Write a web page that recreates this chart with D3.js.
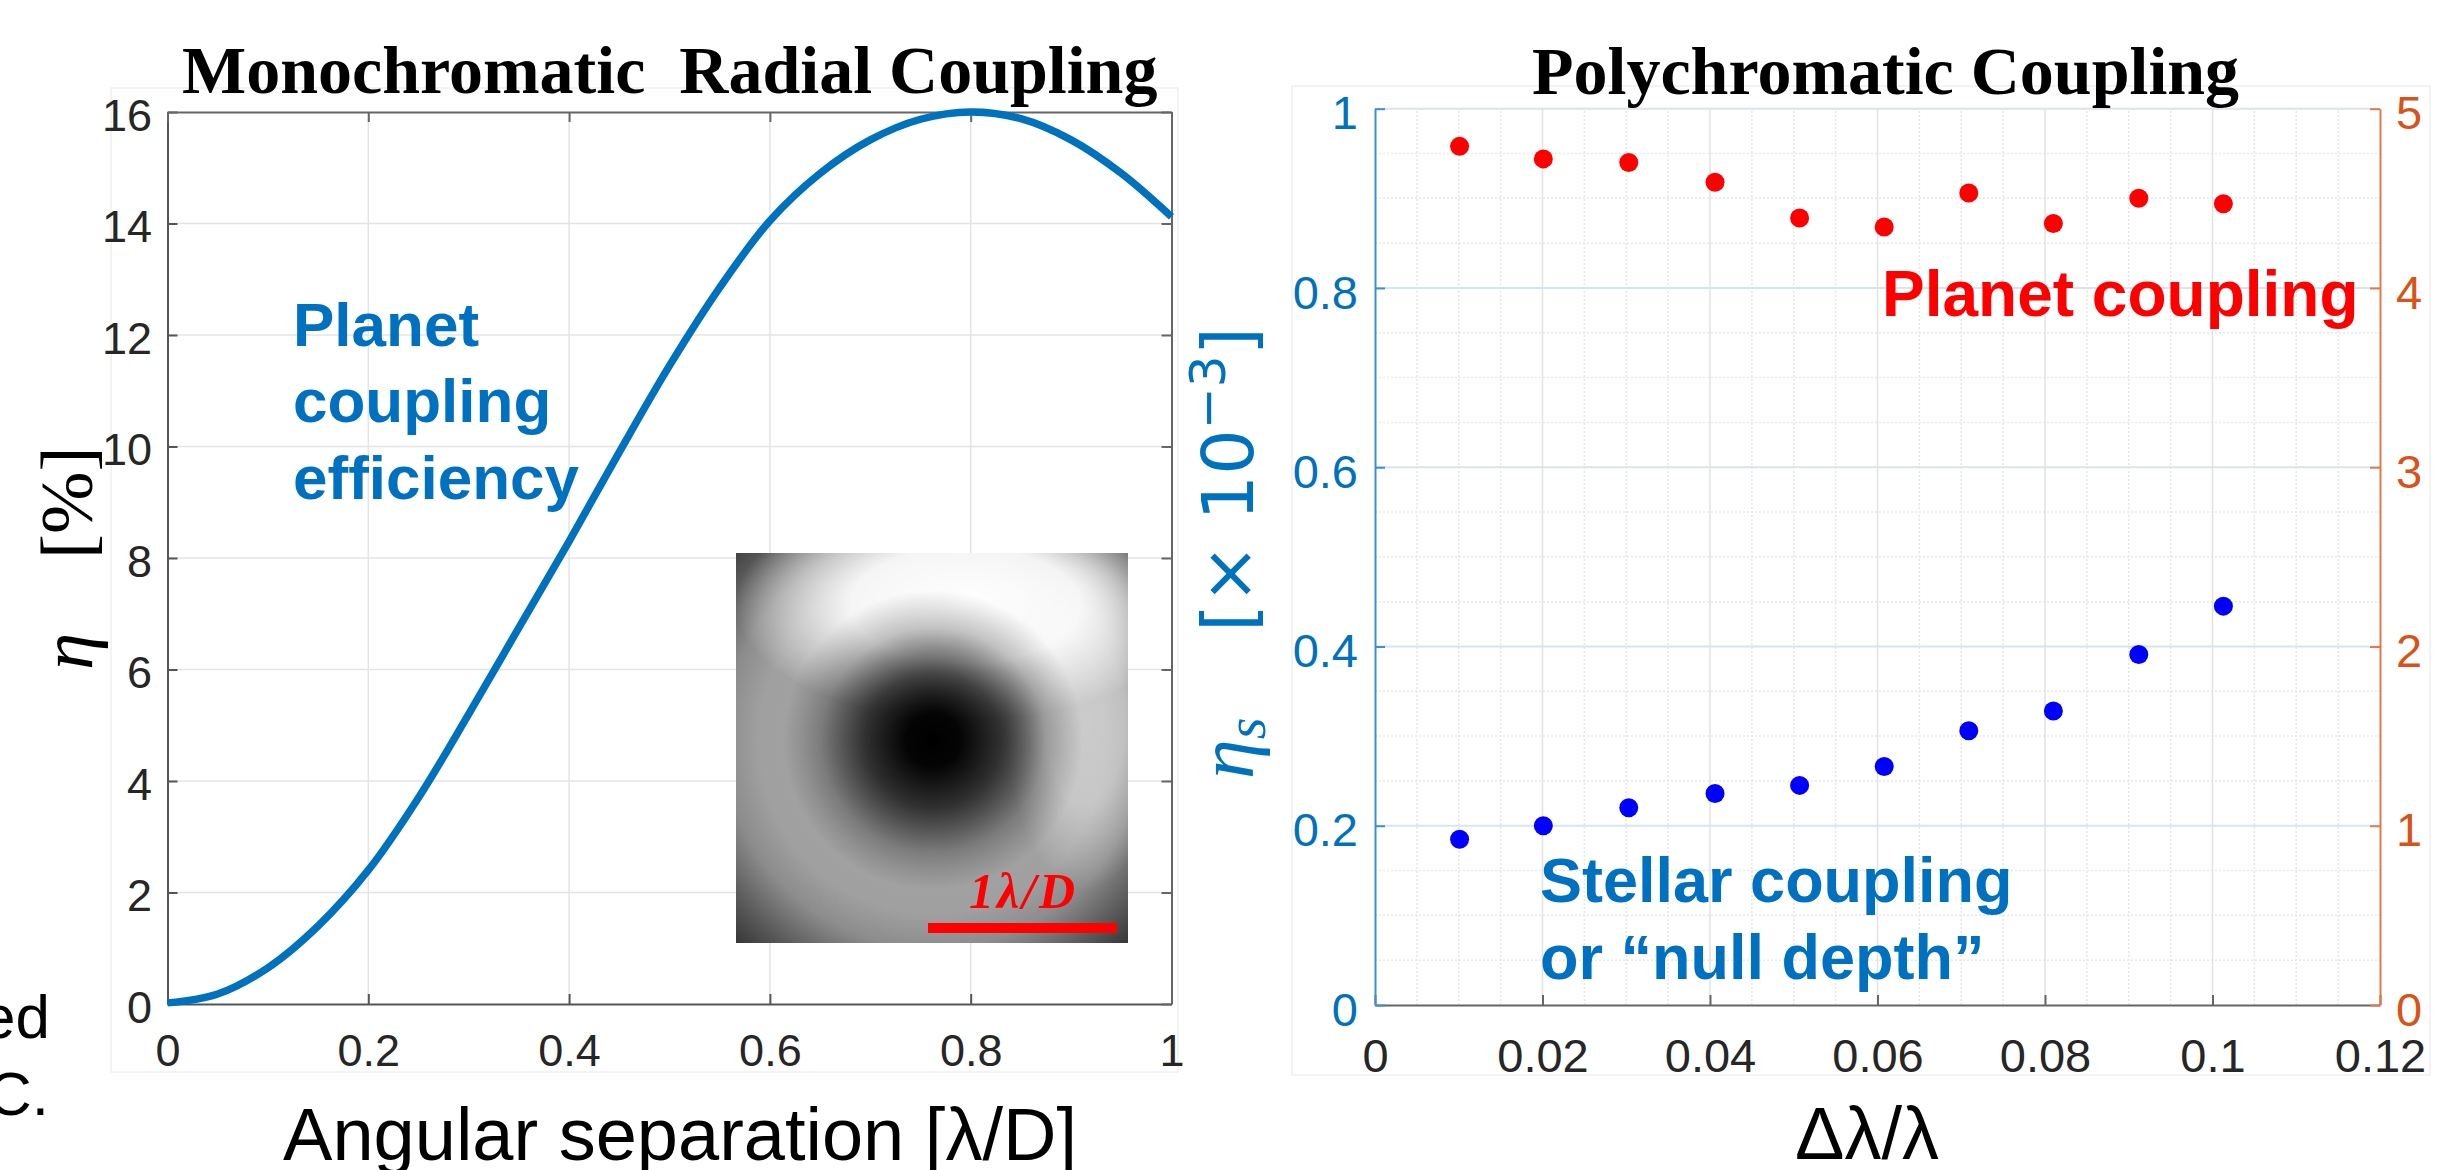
<!DOCTYPE html>
<html><head><meta charset="utf-8">
<script src="https://cdn.jsdelivr.net/npm/d3@7"></script>
<style>
html,body{margin:0;padding:0;background:#fff;overflow:hidden;}
svg{display:block;}
</style></head><body>
<svg id="fig" width="2446" height="1170"></svg>
<script>
// ---------- data: monochromatic radial coupling ----------
const angSepTicks = [0, 0.2, 0.4, 0.6, 0.8, 1];
const etaTicks = [0, 2, 4, 6, 8, 10, 12, 14, 16];
const angSep = [0, 0.05, 0.1, 0.15, 0.2, 0.25, 0.3, 0.35, 0.4, 0.45, 0.5, 0.55, 0.6, 0.65, 0.7, 0.75, 0.8, 0.85, 0.9, 0.95, 1.0];
const etaPlanet = [0.02, 0.18, 0.65, 1.4, 2.4, 3.7, 5.2, 6.75, 8.3, 9.9, 11.45, 12.85, 14.05, 14.9, 15.5, 15.87, 16.0, 15.88, 15.5, 14.9, 14.12];

// ---------- data: polychromatic coupling ----------
const bwTicks = [0, 0.02, 0.04, 0.06, 0.08, 0.1, 0.12];
const stellarTicks = [0, 0.2, 0.4, 0.6, 0.8, 1];
const planetTicks = [0, 1, 2, 3, 4, 5];
const bandwidth = [0.0101, 0.0201, 0.0303, 0.0406, 0.0507, 0.0608, 0.0709, 0.0810, 0.0912, 0.1013];
const planetCoupling = [4.79, 4.72, 4.70, 4.59, 4.39, 4.34, 4.53, 4.36, 4.50, 4.47];
const stellarCoupling = [0.185, 0.200, 0.220, 0.236, 0.245, 0.266, 0.306, 0.328, 0.391, 0.445];

const SANS = "'Liberation Sans', Arial, sans-serif";
const SERIF = "'Liberation Serif', 'Times New Roman', serif";

const svg = d3.select('#fig');
const defs = svg.append('defs');

// =============== LEFT PANEL ===============
const xL = d3.scaleLinear().domain([0, 1]).range([167.5, 1171.5]);
const yL = d3.scaleLinear().domain([0, 16]).range([1004, 112]);

svg.append('rect').attr('x', 111).attr('y', 88).attr('width', 1067).attr('height', 984)
  .attr('fill', 'none').attr('stroke', '#f0f0f0').attr('stroke-width', 1.5);

const gL = svg.append('g');
gL.selectAll('line.vg').data(angSepTicks.slice(1, -1)).join('line')
  .attr('x1', d => xL(d)).attr('x2', d => xL(d)).attr('y1', yL(0)).attr('y2', yL(16))
  .attr('stroke', '#e4e4e4').attr('stroke-width', 1.5);
gL.selectAll('line.hg').data(etaTicks.slice(1, -1)).join('line')
  .attr('x1', xL(0)).attr('x2', xL(1)).attr('y1', d => yL(d)).attr('y2', d => yL(d))
  .attr('stroke', '#e4e4e4').attr('stroke-width', 1.5);

function styleAxis(g, color, size, family) {
  g.attr('font-family', family || SANS).attr('font-size', size).style('color', color);
  g.selectAll('path.domain').attr('stroke-width', 2);
  g.selectAll('.tick line').attr('stroke-width', 2);
}

const axLB = gL.append('g').attr('transform', `translate(0,${yL(0)})`)
  .call(d3.axisBottom(xL).tickValues(angSepTicks).tickSizeInner(-10).tickSizeOuter(0).tickPadding(30).tickFormat(d => String(d)));
styleAxis(axLB, '#555', 45);
axLB.selectAll('text').attr('fill', '#262626');
const axLL = gL.append('g').attr('transform', `translate(${xL(0)},0)`)
  .call(d3.axisLeft(yL).tickValues(etaTicks).tickSizeInner(-10).tickSizeOuter(0).tickPadding(15.5).tickFormat(d => String(d)));
styleAxis(axLL, '#555', 45);
axLL.selectAll('text').attr('fill', '#262626').attr('dy', '0.4em');
const axLT = gL.append('g').attr('transform', `translate(0,${yL(16)})`)
  .call(d3.axisTop(xL).tickValues(angSepTicks).tickSizeInner(-10).tickSizeOuter(0).tickFormat(''));
styleAxis(axLT, '#666', 45);
const axLR = gL.append('g').attr('transform', `translate(${xL(1)},0)`)
  .call(d3.axisRight(yL).tickValues(etaTicks).tickSizeInner(-10).tickSizeOuter(0).tickFormat(''));
styleAxis(axLR, '#666', 45);

// curve
const lineL = d3.line().x((d, i) => xL(angSep[i])).y(d => yL(d)).curve(d3.curveCatmullRom.alpha(0.5));
gL.append('path').datum(etaPlanet).attr('d', lineL)
  .attr('fill', 'none').attr('stroke', '#0072BD').attr('stroke-width', 7.5).attr('stroke-linecap', 'butt');

// inset image (decorative donut PSF)
const ins = {x: 736, y: 553, w: 392, h: 390, cx: 933, cy: 740};
const rg = defs.append('radialGradient').attr('id', 'base').attr('gradientUnits', 'userSpaceOnUse')
  .attr('cx', ins.cx).attr('cy', ins.cy).attr('r', 290);
[[0, '#8a8a8a'], [0.45, '#a2a2a2'], [0.6, '#a0a0a0'], [0.72, '#8c8c8c'], [0.85, '#5e5e5e'], [1, '#2e2e2e']]
  .forEach(s => rg.append('stop').attr('offset', s[0]).attr('stop-color', s[1]));
const hg = defs.append('radialGradient').attr('id', 'hi');
[[0, 1], [0.5, 0.9], [1, 0]].forEach(s => hg.append('stop').attr('offset', s[0]).attr('stop-color', '#fff').attr('stop-opacity', s[1]));
const dg = defs.append('radialGradient').attr('id', 'dark');
[[0, 1], [0.18, 0.97], [0.45, 0.68], [0.75, 0.22], [1, 0]].forEach(s => dg.append('stop').attr('offset', s[0]).attr('stop-color', '#000').attr('stop-opacity', s[1]));
defs.append('clipPath').attr('id', 'insclip').append('rect')
  .attr('x', ins.x).attr('y', ins.y).attr('width', ins.w).attr('height', ins.h);
const gI = svg.append('g').attr('clip-path', 'url(#insclip)');
gI.append('rect').attr('x', ins.x).attr('y', ins.y).attr('width', ins.w).attr('height', ins.h).attr('fill', 'url(#base)');
gI.append('ellipse').attr('cx', 965).attr('cy', 605).attr('rx', 230).attr('ry', 115).attr('fill', 'url(#hi)');
gI.append('ellipse').attr('cx', 1085).attr('cy', 720).attr('rx', 80).attr('ry', 170).attr('fill', 'url(#hi)').attr('opacity', 0.45);
gI.append('ellipse').attr('cx', ins.cx).attr('cy', ins.cy).attr('rx', 150).attr('ry', 150).attr('fill', 'url(#dark)');
svg.append('rect').attr('x', 928).attr('y', 923).attr('width', 189).attr('height', 10).attr('fill', '#FF0000');
svg.append('text').attr('x', 969).attr('y', 908).attr('font-family', SERIF).attr('font-style', 'italic')
  .attr('font-weight', 'bold').attr('font-size', 50).attr('fill', '#FF0000')
  .attr('textLength', 106).attr('lengthAdjust', 'spacing').text('1λ/D');

// texts left
svg.append('text').attr('x', 182).attr('y', 93).attr('font-family', SERIF).attr('font-weight', 'bold')
  .attr('font-size', 68).attr('fill', '#000').attr('xml:space', 'preserve').style('white-space', 'pre')
  .text('Monochromatic  Radial Coupling');
svg.append('text').attr('transform', 'translate(92,670) rotate(-90)').attr('font-family', SERIF)
  .attr('font-style', 'italic').attr('font-size', 75).attr('fill', '#000').text('η');
svg.append('text').attr('transform', 'translate(92,559) rotate(-90)').attr('font-family', SERIF)
  .attr('font-size', 75).attr('fill', '#000').text('[%]');
svg.append('text').attr('x', 680).attr('y', 1160).attr('text-anchor', 'middle').attr('font-family', SANS)
  .attr('font-size', 74).attr('fill', '#000').text('Angular separation [λ/D]');
['Planet', 'coupling', 'efficiency'].forEach((t, i) => {
  svg.append('text').attr('x', 293).attr('y', [346, 422, 499][i]).attr('font-family', SANS)
    .attr('font-weight', 'bold').attr('font-size', 62).attr('fill', '#0070C0').text(t);
});
svg.append('text').attr('x', 50).attr('y', 1038).attr('text-anchor', 'end').attr('font-family', SANS)
  .attr('font-size', 62).attr('fill', '#000').text('ed');
svg.append('text').attr('x', 49).attr('y', 1115).attr('text-anchor', 'end').attr('font-family', SANS)
  .attr('font-size', 62).attr('fill', '#000').text('C.');

// =============== RIGHT PANEL ===============
const xR = d3.scaleLinear().domain([0, 0.12]).range([1375, 2380]);
const yS = d3.scaleLinear().domain([0, 1]).range([1005, 108.7]);
const yP = d3.scaleLinear().domain([0, 5]).range([1005, 108.7]);

svg.append('rect').attr('x', 1292).attr('y', 86).attr('width', 1138).attr('height', 989)
  .attr('fill', 'none').attr('stroke', '#f0f0f0').attr('stroke-width', 1.5);

const gR = svg.append('g');
const majX = new Set(bwTicks.map(d => Math.round(d * 1000)));
const minX = xR.ticks(24).filter(d => !majX.has(Math.round(d * 1000)));
const majY = new Set(stellarTicks.map(d => Math.round(d * 100)));
const minY = yS.ticks(20).filter(d => !majY.has(Math.round(d * 100)));
gR.selectAll('line.mvx').data(minX).join('line')
  .attr('x1', d => xR(d)).attr('x2', d => xR(d)).attr('y1', yS(0)).attr('y2', yS(1))
  .attr('stroke', '#e6e6e6').attr('stroke-width', 1.5).attr('stroke-dasharray', '2,2');
gR.selectAll('line.mhy').data(minY).join('line')
  .attr('x1', xR(0)).attr('x2', xR(0.12)).attr('y1', d => yS(d)).attr('y2', d => yS(d))
  .attr('stroke', '#e2eaf2').attr('stroke-width', 1.5).attr('stroke-dasharray', '2,2');
gR.selectAll('line.vx').data(bwTicks.slice(1, -1)).join('line')
  .attr('x1', d => xR(d)).attr('x2', d => xR(d)).attr('y1', yS(0)).attr('y2', yS(1))
  .attr('stroke', '#e2e2e2').attr('stroke-width', 1.5);
gR.selectAll('line.hy').data(stellarTicks.slice(1, -1)).join('line')
  .attr('x1', xR(0)).attr('x2', xR(0.12)).attr('y1', d => yS(d)).attr('y2', d => yS(d))
  .attr('stroke', '#d5e5f3').attr('stroke-width', 2);
// top line
gR.append('line').attr('x1', xR(0)).attr('x2', xR(0.12)).attr('y1', yS(1)).attr('y2', yS(1))
  .attr('stroke', '#d5e5f3').attr('stroke-width', 2);

const axRB = gR.append('g').attr('transform', `translate(0,${yS(0)})`)
  .call(d3.axisBottom(xR).tickValues(bwTicks).tickSizeInner(-10).tickSizeOuter(0).tickPadding(33.5).tickFormat(d => String(d)));
styleAxis(axRB, '#666', 47);
axRB.selectAll('text').attr('fill', '#262626');
const axRL = gR.append('g').attr('transform', `translate(${xR(0)},0)`)
  .call(d3.axisLeft(yS).tickValues(stellarTicks).tickSizeInner(-10).tickSizeOuter(0).tickPadding(17).tickFormat(d => String(d)));
styleAxis(axRL, '#3d8fd0', 47);
axRL.selectAll('text').attr('fill', '#0072BD').attr('dy', '0.43em');
const axRR = gR.append('g').attr('transform', `translate(${xR(0.12)},0)`)
  .call(d3.axisRight(yP).tickValues(planetTicks).tickSizeInner(-10).tickSizeOuter(0).tickPadding(16).tickFormat(d => String(d)));
styleAxis(axRR, '#e07a4a', 47);
axRR.selectAll('text').attr('fill', '#D95319').attr('dy', '0.43em');

// dots
gR.selectAll('circle.pl').data(planetCoupling).join('circle')
  .attr('cx', (d, i) => xR(bandwidth[i])).attr('cy', d => yP(d)).attr('r', 9.5).attr('fill', '#FF0000');
gR.selectAll('circle.st').data(stellarCoupling).join('circle')
  .attr('cx', (d, i) => xR(bandwidth[i])).attr('cy', d => yS(d)).attr('r', 9.5).attr('fill', '#0000FF');

// texts right
svg.append('text').attr('x', 1532).attr('y', 94).attr('font-family', SERIF).attr('font-weight', 'bold')
  .attr('font-size', 68).attr('fill', '#000').text('Polychromatic Coupling');
svg.append('text').attr('x', 1867).attr('y', 1159).attr('text-anchor', 'middle').attr('font-family', SANS)
  .attr('font-size', 74).attr('fill', '#000').text('Δλ/λ');
svg.append('text').attr('x', 1882).attr('y', 316).attr('font-family', SANS).attr('font-weight', 'bold')
  .attr('font-size', 64).attr('fill', '#FF0000').text('Planet coupling');
svg.append('text').attr('x', 1540).attr('y', 902).attr('font-family', SANS).attr('font-weight', 'bold')
  .attr('font-size', 63).attr('fill', '#0070C0').text('Stellar coupling');
svg.append('text').attr('x', 1540).attr('y', 979).attr('font-family', SANS).attr('font-weight', 'bold')
  .attr('font-size', 63).attr('fill', '#0070C0').text('or “null depth”');

const etaS = svg.append('text').attr('transform', 'translate(1253,779) rotate(-90)').attr('font-family', SERIF)
  .attr('font-style', 'italic').attr('font-size', 80).attr('fill', '#0072BD');
etaS.append('tspan').text('η');
etaS.append('tspan').attr('dy', 12).attr('font-size', 56).text('s');
const unitS = svg.append('text').attr('transform', 'translate(1253,632) rotate(-90)')
  .attr('font-family', "'DejaVu Sans', sans-serif").attr('font-size', 72).attr('fill', '#0072BD')
  .attr('xml:space', 'preserve').style('white-space', 'pre');
unitS.append('tspan').text('[× 10');
unitS.append('tspan').attr('dy', -28).attr('font-size', 50).text('−3');
unitS.append('tspan').attr('dy', 28).text(']');
</script>
</body></html>
